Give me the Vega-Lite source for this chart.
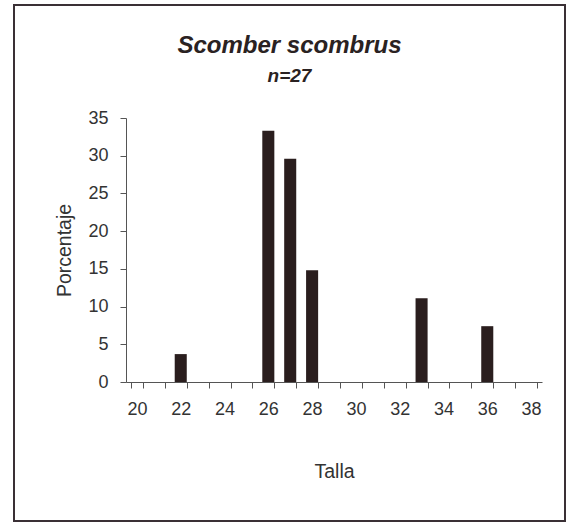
{
  "$schema": "https://vega.github.io/schema/vega-lite/v6.json",
  "width": 551,
  "height": 516,
  "autosize": {"type": "none"},
  "padding": {"left": 14, "top": 5, "right": 2, "bottom": 3},
  "background": "white",
  "title": {
    "text": "Scomber scombrus",
    "subtitle": "n=27",
    "anchor": "middle",
    "frame": "group",
    "offset": -81,
    "font": "Liberation Sans",
    "fontSize": 24,
    "fontStyle": "italic",
    "fontWeight": "bold",
    "color": "#2a2222",
    "subtitleFont": "Liberation Sans",
    "subtitleFontSize": 19,
    "subtitleFontStyle": "italic",
    "subtitleFontWeight": "bold",
    "subtitleColor": "#2a2222",
    "subtitlePadding": 9
  },
  "data": {
    "values": [
      {"talla": 22, "porcentaje": 3.7},
      {"talla": 26, "porcentaje": 33.3},
      {"talla": 27, "porcentaje": 29.6},
      {"talla": 28, "porcentaje": 14.8},
      {"talla": 33, "porcentaje": 11.1},
      {"talla": 36, "porcentaje": 7.4}
    ]
  },
  "mark": {"type": "bar", "color": "#2a1e1e"},
  "encoding": {
    "x": {
      "field": "talla",
      "type": "ordinal",
      "scale": {
        "domain": [20, 21, 22, 23, 24, 25, 26, 27, 28, 29, 30, 31, 32, 33, 34, 35, 36, 37, 38],
        "range": [112, 528],
        "paddingInner": 0.45,
        "paddingOuter": 0.225
      },
      "axis": {
        "title": "Talla",
        "offset": -139,
        "labelAngle": 0,
        "labelExpr": "datum.value % 2 == 0 ? datum.label : ''",
        "tickBand": "extent",
        "labelFont": "Liberation Sans",
        "labelFontSize": 18,
        "labelColor": "#333",
        "labelPadding": 12,
        "titleFont": "Liberation Sans",
        "titleFontSize": 19.5,
        "titleFontWeight": "normal",
        "titleColor": "#333",
        "titlePadding": 44,
        "domainColor": "#555",
        "tickColor": "#555",
        "tickSize": 6,
        "labelOverlap": false
      }
    },
    "y": {
      "field": "porcentaje",
      "type": "quantitative",
      "scale": {"domain": [0, 35], "nice": false, "range": [377, 113]},
      "axis": {
        "title": "Porcentaje",
        "offset": -112,
        "values": [0, 5, 10, 15, 20, 25, 30, 35],
        "grid": false,
        "labelFont": "Liberation Sans",
        "labelFontSize": 18,
        "labelColor": "#333",
        "labelPadding": 12,
        "titleFont": "Liberation Sans",
        "titleFontSize": 19.5,
        "titleFontWeight": "normal",
        "titleColor": "#333",
        "titlePadding": 13,
        "domainColor": "#555",
        "tickColor": "#555",
        "tickSize": 6
      }
    }
  },
  "config": {"view": {"stroke": "#3a3035", "strokeWidth": 2}}
}
